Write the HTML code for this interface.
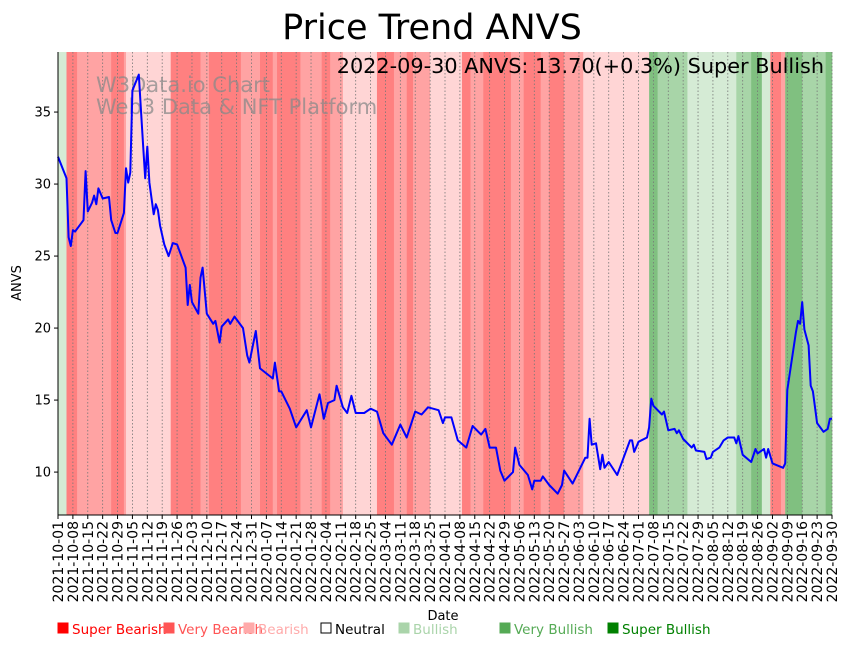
<!DOCTYPE html>
<html><head><meta charset="utf-8">
<style>
body{margin:0;background:#fff;}
svg{display:block;font-family:"DejaVu Sans","Liberation Sans",sans-serif;}
</style></head>
<body>
<svg id="chart" width="848" height="646" viewBox="0 0 848 646" xmlns="http://www.w3.org/2000/svg">
<g id="bands"></g>
<g id="grid"></g>
<text x="96" y="92" font-size="21" fill="#8a8a8a" fill-opacity="0.75">W3Data.io Chart</text>
<text x="96" y="114" font-size="21" fill="#8a8a8a" fill-opacity="0.75">Web3 Data &amp; NFT Platform</text>
<polyline id="line" fill="none" stroke="#0000ff" stroke-width="2" stroke-linejoin="round"/>
<g id="axes"></g>
<text x="432" y="39" font-size="35" text-anchor="middle">Price Trend ANVS</text>
<text x="824" y="73" font-size="20.8" text-anchor="end">2022-09-30 ANVS: 13.70(+0.3%) Super Bullish</text>
<text x="21" y="283" font-size="13" text-anchor="middle" transform="rotate(-90 21 283)">ANVS</text>
<text x="443" y="620" font-size="13" text-anchor="middle">Date</text>
<g id="legend"></g>
</svg>
<script>
const bandStarts=[0,4,9,25,31,32,53,67,71,86,95,101,103,114,124,128,134,150,158,164,167,175,190,194,200,213,219,227,231,238,247,278,282,296,319,326,331,335,340,342,350,361];
const bandLevels=[4,0,1,0,1,2,0,1,0,1,0,1,0,1,0,1,2,0,1,0,1,2,0,1,0,1,0,1,0,1,2,6,5,4,5,6,4,0,1,6,5,6];
const priceDays=[0,4,5,6,7,8,10,12,13,14,16,17,18,19,21,24,25,27,28,31,32,33,34,35,38,40,41,42,43,45,46,47,48,50,52,54,56,60,61,62,63,66,67,68,70,73,74,76,77,80,81,83,87,89,90,93,95,101,102,104,105,109,112,117,119,123,125,127,130,131,134,136,138,140,144,147,150,153,157,161,164,168,171,174,179,181,182,185,188,192,195,199,201,203,206,208,210,214,215,217,221,223,224,227,228,231,235,237,238,242,248,249,250,251,253,255,256,257,259,263,266,269,270,271,273,277,278,279,280,284,285,287,290,291,292,294,298,299,300,304,305,307,308,311,313,315,318,319,320,322,326,328,329,332,333,334,336,341,342,343,347,348,349,350,351,353,354,355,357,360,362,363,364];
const priceValues=[31.9,30.4,26.3,25.7,26.8,26.7,27.1,27.5,30.9,28.1,28.7,29.2,28.6,29.7,29.0,29.1,27.5,26.6,26.6,28.0,31.1,30.1,30.8,36.5,37.6,32.7,30.4,32.6,30.1,27.9,28.6,28.2,27.1,25.8,25.0,25.9,25.8,24.2,21.6,23.0,21.8,21.0,23.5,24.2,21.0,20.3,20.5,19.0,20.1,20.6,20.3,20.8,20.0,18.1,17.6,19.8,17.2,16.5,17.6,15.6,15.6,14.4,13.1,14.3,13.1,15.4,13.7,14.8,15.0,16.0,14.5,14.1,15.3,14.1,14.1,14.4,14.2,12.7,11.9,13.3,12.4,14.2,14.0,14.5,14.3,13.4,13.8,13.8,12.2,11.7,13.2,12.6,13.0,11.7,11.7,10.1,9.4,10.0,11.7,10.5,9.8,8.8,9.4,9.4,9.7,9.1,8.5,9.1,10.1,9.2,11.0,11.0,13.7,11.9,12.0,10.2,11.2,10.3,10.7,9.8,11.0,12.2,12.2,11.4,12.1,12.4,13.1,15.1,14.6,14.0,14.2,12.9,13.0,12.7,12.9,12.3,11.7,11.9,11.5,11.4,10.9,11.0,11.4,11.7,12.2,12.4,12.4,12.0,12.5,11.2,10.7,11.6,11.3,11.6,11.0,11.6,10.6,10.3,10.6,15.7,19.7,20.5,20.3,21.8,19.9,18.8,16.0,15.6,13.4,12.8,13.0,13.7,13.7];
const yTicks=[10,15,20,25,30,35];
const levelColors=["#ff8080","#ffa3a3","#ffd5d5","#ffffff","#d5ebd5","#a8d5a8","#80c080"];
const legendLabels=["Super Bearish","Very Bearish","Bearish","Neutral","Bullish","Very Bullish","Super Bullish"];
const legendColors=["#ff0000","#ff5555","#ffaaaa","#000000","#aad4aa","#55aa55","#008000"];
const legendX=[57,163,243,320,398,499,607];

const NS="http://www.w3.org/2000/svg";
const X0=58,X1=832,Y0=515,Y1=52,D0=0,D1=364,V0=7.02,V1=39.17;
const xs=d=>X0+(d-D0)/(D1-D0)*(X1-X0);
const ys=v=>Y0-(v-V0)/(V1-V0)*(Y0-Y1);
function mk(tag,attrs,parent){const e=document.createElementNS(NS,tag);for(const k in attrs)e.setAttribute(k,attrs[k]);parent.appendChild(e);return e;}

const bands=document.getElementById('bands');
for(let i=0;i<bandStarts.length;i++){
  const s=bandStarts[i],e=i+1<bandStarts.length?bandStarts[i+1]:D1;
  const r=mk('rect',{x:xs(s),y:Y1,width:xs(e)-xs(s)+0.3,height:Y0-Y1,fill:levelColors[bandLevels[i]]},bands);
  
  
}

const grid=document.getElementById('grid');
const axes=document.getElementById('axes');
const start=new Date(Date.UTC(2021,9,1));
for(let d=0;d<=364;d+=7){
  const x=xs(d);
  const g=mk('line',{x1:x,x2:x,y1:Y1,y2:Y0,stroke:'#777',"stroke-width":0.8,"stroke-dasharray":"1.5,2"},grid);
  
  
  const t=mk('line',{x1:x,x2:x,y1:Y0,y2:Y0+4,stroke:'#000',"stroke-width":1},axes);
  
  
  const dt=new Date(start.getTime()+d*86400000);
  const lbl=dt.toISOString().slice(0,10);
  const tx=mk('text',{x:x+5,y:Y0+6,"font-size":14,"text-anchor":"end",transform:`rotate(-90 ${x+5} ${Y0+6})`},axes);
  tx.textContent=lbl;
  
  
}
yTicks.forEach(v=>{
  const y=ys(v);
  const t=mk('line',{x1:X0-4,x2:X0,y1:y,y2:y,stroke:'#000',"stroke-width":1},axes);
  
  
  const tx=mk('text',{x:X0-7,y:y+4.5,"font-size":13,"text-anchor":"end"},axes);
  tx.textContent=v;
  
  
});
const ls=mk('line',{x1:X0,x2:X0,y1:Y1,y2:Y0,stroke:'#000',"stroke-width":1},axes);


const bs=mk('line',{x1:X0,x2:X1,y1:Y0,y2:Y0,stroke:'#000',"stroke-width":1},axes);



document.getElementById('line').setAttribute('points',priceDays.map((d,i)=>xs(d).toFixed(1)+','+ys(priceValues[i]).toFixed(1)).join(' '));

const leg=document.getElementById('legend');
legendLabels.forEach((l,i)=>{
  const x=legendX[i];
  const g=mk('g',{},leg);
  
  
  if(i===3) mk('rect',{x:x+1,y:623,width:10,height:10,fill:'none',stroke:'#000',"stroke-width":1},g);
  else mk('rect',{x:x+0.5,y:622.5,width:11,height:11,fill:legendColors[i]},g);
  const t=mk('text',{x:x+15,y:634,"font-size":13.5,fill:legendColors[i]},g);
  t.textContent=l;
});
</script>
</body></html>
